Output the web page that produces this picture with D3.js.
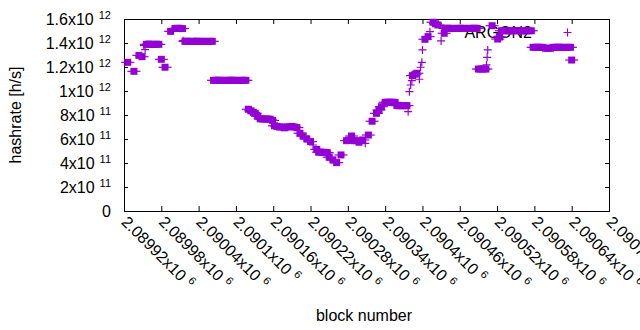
<!DOCTYPE html>
<html>
<head>
<meta charset="utf-8">
<style>
  body { margin: 0; background: #fff; }
  text { font-family: "Liberation Sans", Arial, sans-serif; }
</style>
</head>
<body>
<div id="chartContainer"></div>
<script src="https://cdn.jsdelivr.net/npm/d3@7"></script>
<script type="text/javascript">

// Data: filled squares and plain crosses
var squareBlocks = [
  2089926, 2089936, 2089944, 2089949,
  2089956, 2089960, 2089964, 2089968, 2089972, 2089976,
  2089980, 2089986, 2089995,
  2090002, 2090006, 2090010, 2090014,
  2090018, 2090022, 2090026, 2090030, 2090034, 2090038, 2090042, 2090046, 2090050, 2090054, 2090058, 2090062,
  2090064, 2090068, 2090072, 2090076, 2090080, 2090084, 2090088, 2090092, 2090096, 2090100, 2090104, 2090108, 2090112, 2090116,
  2090120, 2090124, 2090128, 2090131, 2090135,
  2090139, 2090143, 2090147, 2090151, 2090155, 2090159,
  2090162, 2090166, 2090170, 2090174, 2090178, 2090182, 2090186, 2090190, 2090194, 2090198,
  2090203, 2090208, 2090214, 2090220, 2090230,
  2090233, 2090237, 2090241, 2090245, 2090247,
  2090250, 2090256, 2090262, 2090269,
  2090278, 2090282, 2090286, 2090290, 2090294,
  2090298, 2090304, 2090313, 2090319, 2090326, 2090330, 2090334,
  2090340, 2090344, 2090348, 2090352, 2090356,
  2090359, 2090363, 2090367, 2090371, 2090375,
  2090384, 2090388, 2090391, 2090404, 2090409, 2090417, 2090421, 2090425, 2090435,
  2090436, 2090440, 2090444, 2090448, 2090452, 2090456, 2090460, 2090464, 2090468, 2090472, 2090476, 2090480, 2090484, 2090488,
  2090490, 2090494, 2090498, 2090502,
  2090512, 2090521, 2090524,
  2090527, 2090531, 2090535, 2090539, 2090543, 2090547, 2090551, 2090555, 2090559, 2090563, 2090567, 2090571, 2090575,
  2090578, 2090582, 2090586, 2090590, 2090594, 2090598, 2090602, 2090606, 2090610, 2090614, 2090618, 2090622, 2090626, 2090630, 2090634, 2090638,
  2090640
];
var squareRates = [
  1.239e12, 1.164e12, 1.297e12, 1.286e12,
  1.389e12, 1.391e12, 1.389e12, 1.388e12, 1.390e12, 1.389e12,
  1.264e12, 1.198e12, 1.497e12,
  1.521e12, 1.523e12, 1.522e12, 1.520e12,
  1.414e12, 1.415e12, 1.413e12, 1.414e12, 1.414e12, 1.415e12, 1.413e12, 1.414e12, 1.414e12, 1.413e12, 1.414e12, 1.414e12,
  1.089e12, 1.089e12, 1.090e12, 1.089e12, 1.088e12, 1.089e12, 1.089e12, 1.090e12, 1.089e12, 1.089e12, 1.088e12, 1.089e12, 1.089e12, 1.089e12,
  8.48e11, 8.35e11, 8.22e11, 8.14e11, 7.90e11,
  7.68e11, 7.67e11, 7.66e11, 7.67e11, 7.65e11, 7.55e11,
  7.10e11, 7.05e11, 7.00e11, 7.00e11, 6.93e11, 7.00e11, 7.02e11, 7.05e11, 7.00e11, 6.95e11,
  6.48e11, 6.25e11, 6.00e11, 5.78e11, 5.14e11,
  4.90e11, 4.89e11, 4.89e11, 4.88e11, 4.85e11,
  4.48e11, 4.25e11, 4.03e11, 4.67e11,
  5.86e11, 5.90e11, 6.25e11, 5.86e11, 5.86e11,
  5.73e11, 5.92e11, 6.33e11, 7.48e11, 8.14e11, 8.42e11, 8.69e11,
  9.06e11, 9.06e11, 9.07e11, 9.06e11, 9.05e11,
  8.78e11, 8.78e11, 8.77e11, 8.78e11, 8.78e11,
  1.128e12, 1.140e12, 1.148e12, 1.431e12, 1.453e12, 1.573e12, 1.560e12, 1.550e12, 1.481e12,
  1.522e12, 1.523e12, 1.522e12, 1.522e12, 1.521e12, 1.522e12, 1.523e12, 1.522e12, 1.522e12, 1.521e12, 1.522e12, 1.522e12, 1.523e12, 1.522e12,
  1.183e12, 1.183e12, 1.184e12, 1.183e12,
  1.544e12, 1.433e12, 1.450e12,
  1.502e12, 1.503e12, 1.502e12, 1.501e12, 1.502e12, 1.502e12, 1.503e12, 1.502e12, 1.502e12, 1.501e12, 1.502e12, 1.502e12, 1.502e12,
  1.364e12, 1.364e12, 1.365e12, 1.364e12, 1.363e12, 1.356e12, 1.355e12, 1.356e12, 1.364e12, 1.364e12, 1.365e12, 1.364e12, 1.364e12, 1.363e12, 1.364e12, 1.364e12,
  1.258e12
];
var plusBlocks = [
  2089952, 2089954, 2090015, 2090224, 2090308, 2090377, 2090379, 2090381, 2090383,
  2090395, 2090397, 2090399, 2090400, 2090412, 2090430, 2090503, 2090504, 2090505
];
var plusRates = [
  1.381e12, 1.344e12, 1.419e12, 5.50e11, 5.64e11, 8.28e11, 9.94e11, 1.050e12, 1.086e12,
  1.098e12, 1.198e12, 1.239e12, 1.342e12, 1.494e12, 1.417e12, 1.217e12, 1.281e12, 1.342e12
];

var xTickValues = [2089920, 2089980, 2090040, 2090100, 2090160, 2090220, 2090280,
                   2090340, 2090400, 2090460, 2090520, 2090580, 2090640, 2090700];
var yTickValues = [0, 2e11, 4e11, 6e11, 8e11, 1e12, 1.2e12, 1.4e12, 1.6e12];
var seriesName = "ARGON2";

// Chart size and margins
var margin = {top: 19, right: 31, bottom: 119, left: 124};
var chartSize = {width: 485, height: 192};
var purple = "#9400d3";

var svg = d3.select("#chartContainer").append("svg")
  .attr("width", 640).attr("height", 330);

var x = d3.scaleLinear().domain([2089920, 2090700])
  .range([margin.left, margin.left + chartSize.width]);
var y = d3.scaleLinear().domain([0, 1.6e12])
  .range([margin.top + chartSize.height, margin.top]);

// axes with inward ticks, mirrored on top and right
svg.append("g").attr("transform", "translate(0," + (margin.top + chartSize.height) + ")")
  .call(d3.axisBottom(x).tickValues(xTickValues).tickSize(-5).tickSizeOuter(0).tickFormat(""))
  .attr("class", "xaxis");
svg.append("g").attr("transform", "translate(0," + margin.top + ")")
  .call(d3.axisTop(x).tickValues(xTickValues).tickSize(-5).tickSizeOuter(0).tickFormat(""));
svg.append("g").attr("transform", "translate(" + margin.left + ",0)")
  .call(d3.axisLeft(y).tickValues(yTickValues).tickSize(-4).tickSizeOuter(0).tickFormat(""))
  .attr("class", "yaxis");
svg.append("g").attr("transform", "translate(" + (margin.left + chartSize.width) + ",0)")
  .call(d3.axisRight(y).tickValues(yTickValues).tickSize(-4).tickSizeOuter(0).tickFormat(""));
svg.selectAll(".domain").remove();
svg.selectAll(".tick line").attr("stroke", "#000");

svg.append("rect")
  .attr("x", margin.left + 0.5).attr("y", margin.top + 0.5)
  .attr("width", chartSize.width).attr("height", chartSize.height)
  .attr("fill", "none").attr("stroke", "#000");

// y tick labels like 1.6x10^12
svg.select(".yaxis").selectAll(".tick").each(function (d) {
  var t = d3.select(this).append("text")
    .attr("x", -13).attr("y", 5.5)
    .attr("fill", "#000").attr("font-size", 16).attr("text-anchor", "end");
  if (d === 0) { t.text("0"); return; }
  var e = Math.floor(Math.log10(d) + 1e-9);
  var m = +(d / Math.pow(10, e)).toFixed(3);
  t.append("tspan").text(m + "x10");
  t.append("tspan").attr("dx", 5).attr("dy", -6).attr("font-size", 11).text(e);
});

// x tick labels rotated by 45 degrees
svg.select(".xaxis").selectAll(".tick").each(function (d) {
  var t = d3.select(this).append("text")
    .attr("transform", "translate(0,8) rotate(45)")
    .attr("x", 0).attr("y", 5.5)
    .attr("fill", "#000").attr("font-size", 16).attr("text-anchor", "start");
  t.append("tspan").text(+(d / 1e6).toFixed(5) + "x10");
  t.append("tspan").attr("dx", 5).attr("dy", -6).attr("font-size", 11).text("6");
});

// axis titles
svg.append("text")
  .attr("transform", "translate(21," + (margin.top + chartSize.height / 2) + ") rotate(-90)")
  .attr("text-anchor", "middle").attr("font-size", 16)
  .text("hashrate [h/s]");
svg.append("text")
  .attr("x", 364).attr("y", 321)
  .attr("text-anchor", "middle").attr("font-size", 16)
  .text("block number");

// key (drawn under the data)
svg.append("text")
  .attr("x", 532).attr("y", 37.5)
  .attr("text-anchor", "end").attr("font-size", 16)
  .text(seriesName);
svg.append("path")
  .attr("d", "M563.5,32.5h8M567.5,28.5v8")
  .attr("stroke", purple).attr("stroke-width", 1.2);

// points
var squares = d3.zip(squareBlocks, squareRates);
var pluses = d3.zip(plusBlocks, plusRates);

var pts = svg.append("g");
pts.selectAll(".sqArm").data(squares).enter().append("line")
  .attr("x1", function (d) { return x(d[0]) - 6.5; })
  .attr("x2", function (d) { return x(d[0]) + 6.5; })
  .attr("y1", function (d) { return y(d[1]); })
  .attr("y2", function (d) { return y(d[1]); })
  .attr("stroke", purple).attr("stroke-width", 1.2);
pts.selectAll(".sq").data(squares).enter().append("rect")
  .attr("x", function (d) { return x(d[0]) - 3.5; })
  .attr("y", function (d) { return y(d[1]) - 3.5; })
  .attr("width", 7).attr("height", 7)
  .attr("fill", purple);
pts.selectAll(".plus").data(pluses).enter().append("path")
  .attr("d", function (d) {
    var px = x(d[0]), py = y(d[1]);
    return "M" + (px - 4) + "," + py + "h8M" + px + "," + (py - 4) + "v8";
  })
  .attr("stroke", purple).attr("stroke-width", 1.2).attr("fill", "none");

</script>
</body>
</html>
